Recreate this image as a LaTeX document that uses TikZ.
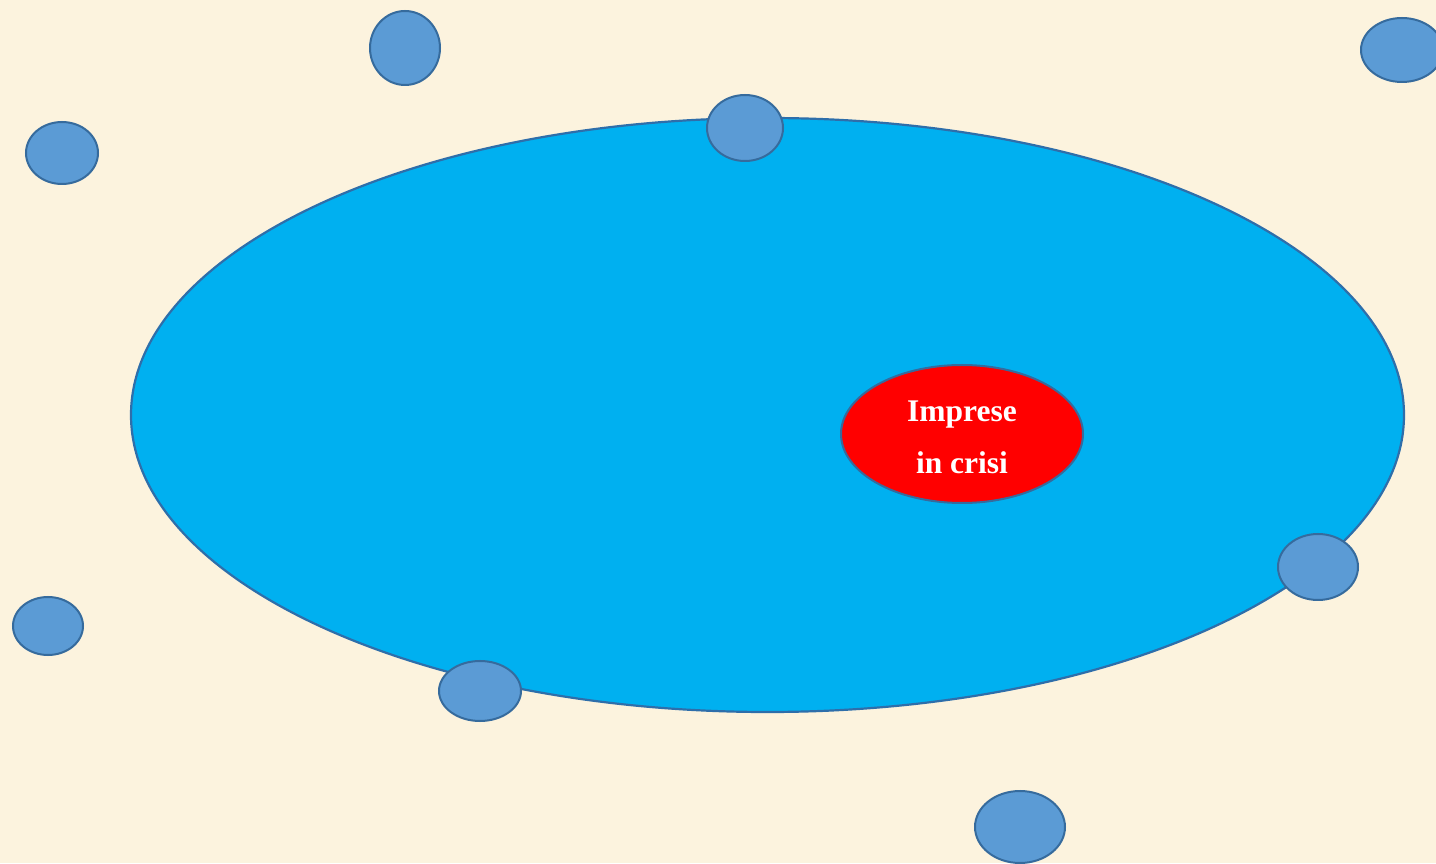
\documentclass[tikz,border=0pt]{standalone}
\usepackage{fontspec}
\setmainfont{Liberation Serif}
\usetikzlibrary{shapes.geometric}
\definecolor{bgcream}{RGB}{252,243,222}
\definecolor{bigfill}{RGB}{0,176,240}
\definecolor{bigline}{RGB}{46,110,170}
\definecolor{dotfill}{RGB}{91,155,213}
\definecolor{dotline}{RGB}{54,107,157}
\begin{document}
\begin{tikzpicture}[x=1pt,y=1pt,
  dot/.style={draw=dotline,line width=2pt,fill=dotfill},
]
\useasboundingbox (0,0) rectangle (1436,863);
\fill[bgcream] (0,0) rectangle (1436,863);
% big ellipse
\draw[draw=bigline,line width=2.2pt,fill=bigfill] (767.5,448) ellipse [x radius=636.5,y radius=297];
% red ellipse
\draw[draw=dotline,line width=2pt,fill=red] (962,429) ellipse [x radius=121,y radius=69];
\node[text=white,font=\bfseries\fontsize{31.5}{52}\selectfont,align=center] (crisi) at (962,426) {Imprese\\in crisi};
% small circles
\draw[dot] (405,815) ellipse [x radius=35,y radius=37];
\draw[dot] (62,710) ellipse [x radius=36,y radius=31];
\draw[dot] (745,735) ellipse [x radius=38,y radius=33];
\draw[dot] (1402,813) ellipse [x radius=41,y radius=32];
\draw[dot] (1318,296) ellipse [x radius=40,y radius=33];
\draw[dot] (48,237) ellipse [x radius=35,y radius=29];
\draw[dot] (480,172) ellipse [x radius=41,y radius=30];
\draw[dot] (1020,36) ellipse [x radius=45,y radius=36];
\end{tikzpicture}
\end{document}
